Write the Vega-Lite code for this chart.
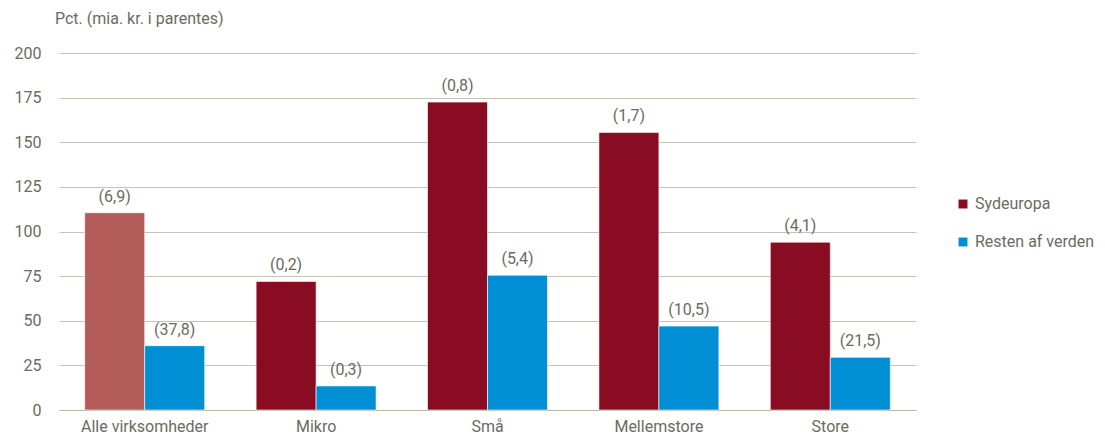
{
  "$schema": "https://vega.github.io/schema/vega-lite/v6.json",
  "width": 857,
  "height": 357,
  "autosize": {"type": "none"},
  "padding": {"left": 59, "top": 53, "right": 189, "bottom": 36},
  "background": "white",
  "config": {
    "font": "Roboto",
    "view": {"stroke": null},
    "axis": {"labelColor": "#6b6b5e", "labelFont": "Roboto", "labelFontSize": 16},
    "legend": {"labelColor": "#6b6b5e", "labelFont": "Roboto", "labelFontSize": 16}
  },
  "title": {
    "text": "Pct. (mia. kr. i parentes)",
    "anchor": "start",
    "frame": "group",
    "offset": 18,
    "dx": -4,
    "font": "Roboto",
    "fontSize": 16,
    "fontWeight": "normal",
    "color": "#6b6b5e"
  },
  "data": {
    "values": [
      {"kategori": "Alle virksomheder", "serie": "Sydeuropa", "pct": 110.5, "label": "(6,9)"},
      {"kategori": "Alle virksomheder", "serie": "Resten af verden", "pct": 36, "label": "(37,8)"},
      {"kategori": "Mikro", "serie": "Sydeuropa", "pct": 72, "label": "(0,2)"},
      {"kategori": "Mikro", "serie": "Resten af verden", "pct": 13.5, "label": "(0,3)"},
      {"kategori": "Små", "serie": "Sydeuropa", "pct": 172.5, "label": "(0,8)"},
      {"kategori": "Små", "serie": "Resten af verden", "pct": 75.5, "label": "(5,4)"},
      {"kategori": "Mellemstore", "serie": "Sydeuropa", "pct": 155.5, "label": "(1,7)"},
      {"kategori": "Mellemstore", "serie": "Resten af verden", "pct": 47, "label": "(10,5)"},
      {"kategori": "Store", "serie": "Sydeuropa", "pct": 94, "label": "(4,1)"},
      {"kategori": "Store", "serie": "Resten af verden", "pct": 29.5, "label": "(21,5)"}
    ]
  },
  "encoding": {
    "x": {
      "field": "kategori",
      "type": "nominal",
      "sort": ["Alle virksomheder", "Mikro", "Små", "Mellemstore", "Store"],
      "scale": {"paddingInner": 0.3, "paddingOuter": 0.15},
      "axis": {"title": null, "labelAngle": 0, "ticks": false, "domain": true, "domainColor": "#b8b6a8", "labelPadding": 8}
    },
    "xOffset": {"field": "serie", "type": "nominal", "sort": ["Sydeuropa", "Resten af verden"]},
    "y": {
      "field": "pct",
      "type": "quantitative",
      "scale": {"domain": [0, 200]},
      "axis": {"title": null, "values": [0, 25, 50, 75, 100, 125, 150, 175, 200], "domain": false, "ticks": false, "gridColor": "#c6c4b6", "gridWidth": 1, "labelPadding": 18}
    }
  },
  "layer": [
    {
      "mark": {"type": "bar", "stroke": "#ffffff", "strokeOpacity": 0.6, "strokeWidth": 1},
      "encoding": {
        "color": {
          "condition": {"test": "datum.kategori === 'Alle virksomheder' && datum.serie === 'Sydeuropa'", "value": "#b35b58"},
          "field": "serie",
          "type": "nominal",
          "sort": ["Sydeuropa", "Resten af verden"],
          "scale": {"domain": ["Sydeuropa", "Resten af verden"], "range": ["#8a0c22", "#008fd5"]},
          "legend": {"title": null, "orient": "none", "legendX": 896, "legendY": 143, "symbolType": "square", "symbolSize": 80, "symbolStrokeWidth": 0, "rowPadding": 22, "labelOffset": 4}
        }
      }
    },
    {
      "mark": {"type": "text", "baseline": "bottom", "dy": -8, "fontSize": 16, "color": "#6b6b5e", "font": "Roboto"},
      "encoding": {"text": {"field": "label"}}
    }
  ]
}
